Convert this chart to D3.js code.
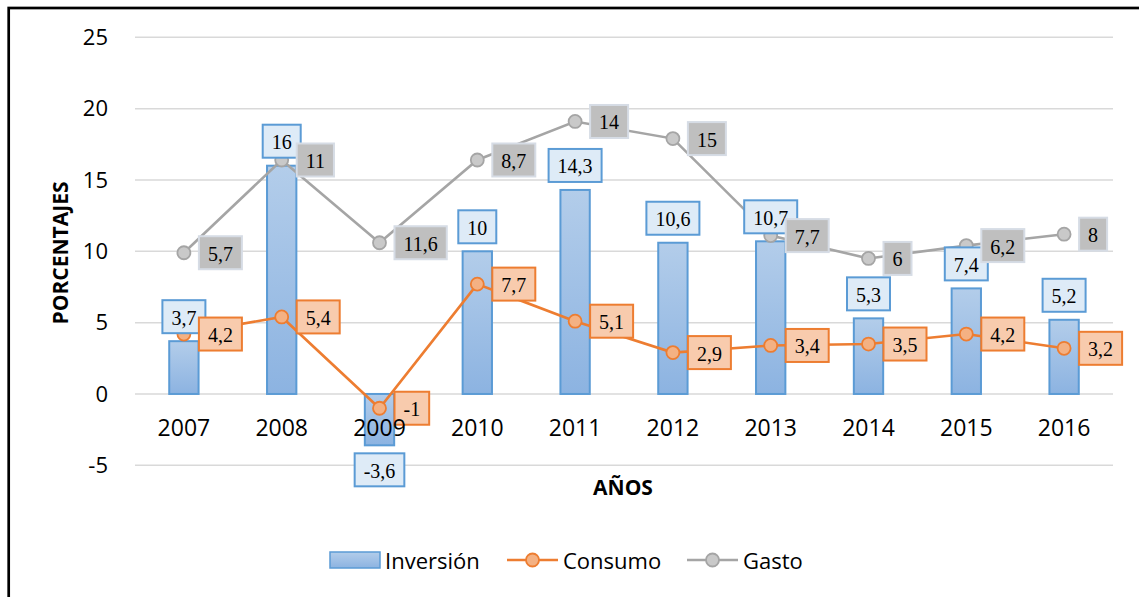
<!DOCTYPE html>
<html>
<head>
<meta charset="utf-8">
<script src="https://cdn.jsdelivr.net/npm/d3@7"></script>
<style>
  body { margin: 0; background: #fff; }
  text { fill: #000; }
</style>
</head>
<body>
<div id="chart"></div>
<script>
// data
const years = ["2007", "2008", "2009", "2010", "2011", "2012", "2013", "2014", "2015", "2016"];
const inversion = [3.7, 16, -3.6, 10, 14.3, 10.6, 10.7, 5.3, 7.4, 5.2];
const consumo = [4.2, 5.4, -1, 7.7, 5.1, 2.9, 3.4, 3.5, 4.2, 3.2];
const gasto = [5.7, 11, 11.6, 8.7, 14, 15, 7.7, 6, 6.2, 8];
const yTicks = [-5, 0, 5, 10, 15, 20, 25];
const seriesNames = ["Inversión", "Consumo", "Gasto"];

const W = 1139, H = 597;
const sansFont = "'Open Sans', sans-serif";
const serifFont = "'Liberation Serif', 'Times New Roman', serif";

const svg = d3.select("#chart").append("svg")
    .attr("width", W)
    .attr("height", H);

// gradient for the bars
const grad = svg.append("defs").append("linearGradient")
    .attr("id", "barGrad")
    .attr("x1", 0).attr("y1", 0).attr("x2", 0).attr("y2", 1);
grad.append("stop").attr("offset", "0%").attr("stop-color", "#b3cdea");
grad.append("stop").attr("offset", "100%").attr("stop-color", "#8cb3e1");

// outer frame (runs off right / bottom)
svg.append("rect")
    .attr("x", 8.7).attr("y", 8)
    .attr("width", 1300).attr("height", 800)
    .attr("fill", "none")
    .attr("stroke", "#000")
    .attr("stroke-width", 2.7);

const x = d3.scaleBand()
    .domain(years)
    .range([135, 1113])
    .paddingInner(0.7)
    .paddingOuter(0.35);

const y = d3.scaleLinear()
    .domain([-5, 25])
    .range([465.3, 37.3]);

const cx = d => x(d) + x.bandwidth() / 2;

// gridlines
svg.append("g")
    .selectAll("line")
    .data(yTicks)
    .join("line")
    .attr("x1", 135).attr("x2", 1113)
    .attr("y1", d => y(d)).attr("y2", d => y(d))
    .attr("stroke", "#d9d9d9")
    .attr("stroke-width", 1.5);

// y axis labels
const yAxis = svg.append("g")
    .attr("transform", "translate(120,0)")
    .call(d3.axisLeft(y).tickValues(yTicks).tickSize(0).tickPadding(12).tickFormat(d => String(d)));
yAxis.select(".domain").remove();
yAxis.selectAll("text")
    .style("font-family", sansFont)
    .style("font-size", "22px")
    .attr("fill", "#000");

// axis titles
svg.append("text")
    .attr("transform", "translate(68,253) rotate(-90)")
    .attr("text-anchor", "middle")
    .style("font-family", sansFont)
    .style("font-size", "21px")
    .style("font-weight", "bold")
    .text("PORCENTAJES");

svg.append("text")
    .attr("x", 623).attr("y", 495)
    .attr("text-anchor", "middle")
    .style("font-family", sansFont)
    .style("font-size", "21px")
    .style("font-weight", "bold")
    .text("AÑOS");

// bars
const barData = years.map((yr, i) => ({ year: yr, v: inversion[i] }));
svg.append("g")
    .selectAll("rect")
    .data(barData)
    .join("rect")
    .attr("x", d => x(d.year))
    .attr("y", d => y(Math.max(0, d.v)))
    .attr("width", x.bandwidth())
    .attr("height", d => Math.abs(y(d.v) - y(0)))
    .attr("fill", "url(#barGrad)")
    .attr("stroke", "#5b9bd5")
    .attr("stroke-width", 2);

// stacked lines: consumo, then gasto on top of consumo
const table = years.map((yr, i) => ({ year: yr, consumo: consumo[i], gasto: gasto[i] }));
const stacked = d3.stack().keys(["consumo", "gasto"])(table);

const lineGen = d3.line()
    .x(d => cx(d.data.year))
    .y(d => y(d[1]));

const lineStyles = {
    consumo: { stroke: "#ed7d31", fill: "#f4b183" },
    gasto: { stroke: "#a5a5a5", fill: "#c9c9c9" }
};

// draw gasto first so consumo sits above it
[stacked[1], stacked[0]].forEach(s => {
    const st = lineStyles[s.key];
    svg.append("path")
        .datum(s)
        .attr("d", lineGen)
        .attr("fill", "none")
        .attr("stroke", st.stroke)
        .attr("stroke-width", 2.6);
    svg.append("g")
        .selectAll("circle")
        .data(s)
        .join("circle")
        .attr("cx", d => cx(d.data.year))
        .attr("cy", d => y(d[1]))
        .attr("r", 6.5)
        .attr("fill", st.fill)
        .attr("stroke", st.stroke)
        .attr("stroke-width", 1.8);
});

// data labels
function fmt(v) { return String(v).replace(".", ","); }

function addLabel(g, text, px, py, anchor, fill, stroke) {
    // anchor: "above" (px,py = bottom centre), "below" (top centre), "right" (left middle)
    const grp = g.append("g");
    const rect = grp.append("rect");
    const t = grp.append("text")
        .style("font-family", serifFont)
        .style("font-size", "20px")
        .attr("text-anchor", "middle")
        .attr("dominant-baseline", "central")
        .text(text);
    const w = t.node().getComputedTextLength() + 18, h = 33;
    let x0, y0;
    if (anchor === "above") { x0 = px - w / 2; y0 = py - h; }
    else if (anchor === "below") { x0 = px - w / 2; y0 = py; }
    else { x0 = px; y0 = py - h / 2; }
    rect.attr("x", x0).attr("y", y0).attr("width", w).attr("height", h)
        .attr("fill", fill).attr("stroke", stroke).attr("stroke-width", 2);
    t.attr("x", x0 + w / 2).attr("y", y0 + h / 2 + 1);
}

const labels = svg.append("g");
barData.forEach(d => {
    if (d.v >= 0) addLabel(labels, fmt(d.v), cx(d.year), y(d.v) - 8, "above", "#deebf7", "#5b9bd5");
    else addLabel(labels, fmt(d.v), cx(d.year), y(d.v) + 8, "below", "#deebf7", "#5b9bd5");
});
stacked[0].forEach(d => {
    addLabel(labels, fmt(d.data.consumo), cx(d.data.year) + 15, y(d[1]), "right", "#f8cbad", "#ed7d31");
});
stacked[1].forEach(d => {
    addLabel(labels, fmt(d.data.gasto), cx(d.data.year) + 15, y(d[1]), "right", "#bfbfbf", "#d6dce5");
});

// x axis labels, drawn over the bars like the original
const xAxis = svg.append("g")
    .attr("transform", `translate(0,${y(0)})`)
    .call(d3.axisBottom(x).tickSize(0).tickPadding(26));
xAxis.select(".domain").remove();
xAxis.selectAll("text")
    .style("font-family", sansFont)
    .style("font-size", "23px")
    .attr("fill", "#000");

// legend
const legend = svg.append("g").attr("transform", "translate(0,560)");
legend.append("rect")
    .attr("x", 330).attr("y", -8)
    .attr("width", 50).attr("height", 16)
    .attr("fill", "url(#barGrad)")
    .attr("stroke", "#5b9bd5")
    .attr("stroke-width", 1.5);
legend.append("text")
    .attr("x", 385).attr("y", 0)
    .attr("dominant-baseline", "central")
    .style("font-family", sansFont)
    .style("font-size", "22px")
    .text(seriesNames[0]);

[["consumo", 507, 563, seriesNames[1]], ["gasto", 687, 743, seriesNames[2]]].forEach(([k, lx, tx, name]) => {
    const st = lineStyles[k];
    legend.append("line")
        .attr("x1", lx).attr("x2", lx + 51)
        .attr("y1", 0).attr("y2", 0)
        .attr("stroke", st.stroke)
        .attr("stroke-width", 2.6);
    legend.append("circle")
        .attr("cx", lx + 25.5).attr("cy", 0)
        .attr("r", 6.5)
        .attr("fill", st.fill)
        .attr("stroke", st.stroke)
        .attr("stroke-width", 1.8);
    legend.append("text")
        .attr("x", tx).attr("y", 0)
        .attr("dominant-baseline", "central")
        .style("font-family", sansFont)
        .style("font-size", "22px")
        .text(name);
});
</script>
</body>
</html>
